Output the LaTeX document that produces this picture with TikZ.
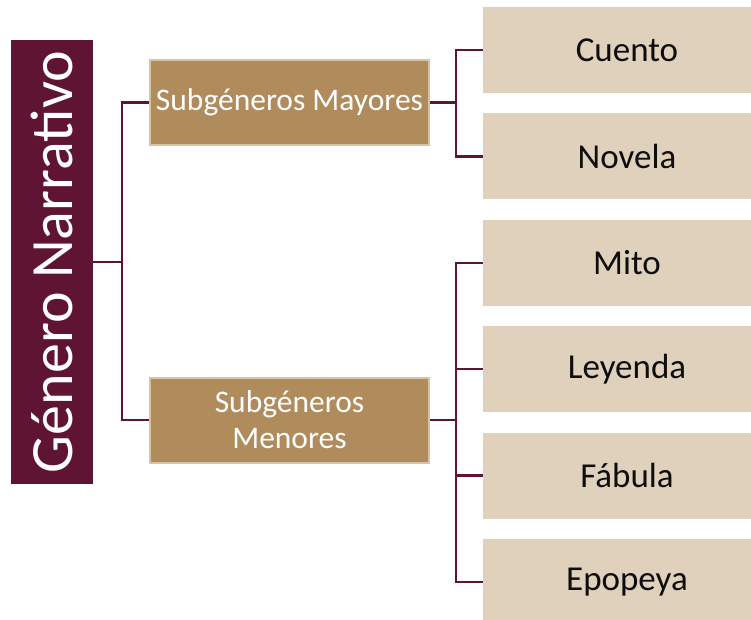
\documentclass[tikz,border=0pt]{standalone}
\usepackage{fontspec}
\setmainfont{Carlito}
\usepackage{xcolor}
\usepackage{tikz}
\usetikzlibrary{positioning}
\definecolor{vino}{HTML}{5F1434}
\definecolor{cafe}{HTML}{B08B5C}
\definecolor{cafeborde}{HTML}{D9C3A3}
\definecolor{arena}{HTML}{DFD1BB}

\begin{document}
\begin{tikzpicture}[
  x=1pt, y=-1pt,
  node distance=20pt and 53pt,
  rootbox/.style={rectangle, fill=vino, text=white, minimum width=82pt, minimum height=444pt, inner sep=0pt, font=\fontsize{60}{62}\selectfont},
  midbox/.style={rectangle, fill=cafe, draw=cafeborde, line width=2pt, text=white, minimum width=279pt, minimum height=85pt, align=center, inner sep=2pt, font=\fontsize{31.5}{36}\selectfont},
  leaf/.style={rectangle, fill=arena, minimum width=268pt, minimum height=86pt, inner sep=0pt, text=black!95, font=\fontsize{35}{38}\selectfont, execute at begin node=\hspace*{20pt}},
  conn/.style={draw=vino, line width=2.3pt}
]
\useasboundingbox (0,0) rectangle (751,619);

\node[rootbox] (root) at (52,262) {\rotatebox{90}{Género Narrativo}};

\node[midbox] (mayores) at (289.5,102.5) {Subgéneros Mayores};
\node[midbox] (menores) at (289.5,420) {Subgéneros\\Menores};

\node[leaf] (cuento) at (617,50) {Cuento};
\node[leaf, below=of cuento] (novela) {Novela};
\node[leaf, below=of novela] (mito) {Mito};
\node[leaf, below=of mito] (leyenda) {Leyenda};
\node[leaf, below=of leyenda] (fabula) {Fábula};
\node[leaf, below=of fabula] (epopeya) {Epopeya};

% ramas
\draw[conn] (root.east) -- ++(29,0) coordinate (r1);
\draw[conn] (r1) |- (mayores.west);
\draw[conn] (r1) |- (menores.west);

\draw[conn] (mayores.east) -- ++(26,0) coordinate (m1);
\draw[conn] (m1) |- (cuento.west);
\draw[conn] (m1) |- (novela.west);

\draw[conn] (menores.east) -- ++(26,0) coordinate (m2);
\draw[conn] (m2) |- (mito.west);
\draw[conn] (m2) |- (leyenda.west);
\draw[conn] (m2) |- (fabula.west);
\draw[conn] (m2) |- (epopeya.west);
\end{tikzpicture}
\end{document}
